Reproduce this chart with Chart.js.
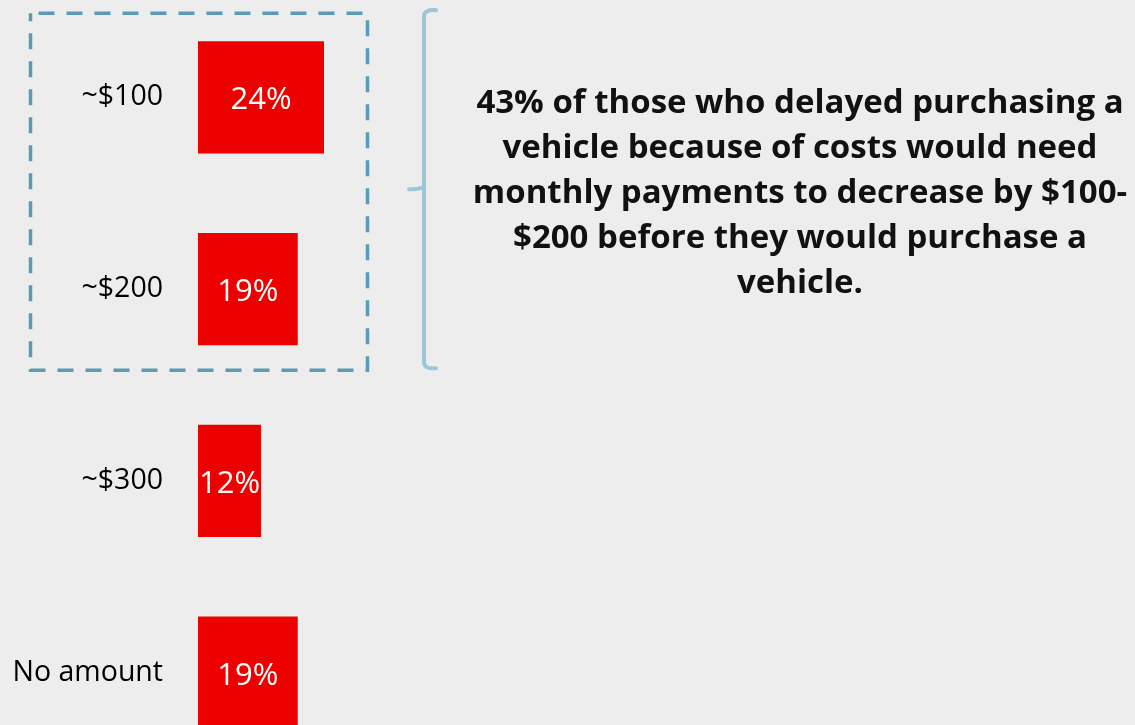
<!DOCTYPE html>
<html>
<head>
<meta charset="utf-8">
<script src="https://cdn.jsdelivr.net/npm/chart.js@4/dist/chart.umd.min.js"></script>
<style>
  html, body { margin: 0; padding: 0; background: #ededed; overflow: hidden; }
  #wrap { width: 1135px; height: 770px; }
</style>
</head>
<body>
<div id="wrap"><canvas id="c" width="1135" height="770"></canvas></div>
<script>
// Monthly payment decrease needed before purchasing a vehicle
const categories = ['~$100', '~$200', '~$300', 'No amount'];
const shares = [24, 19, 12, 19];
const calloutLines = [
  '43% of those who delayed purchasing a',
  'vehicle because of costs would need',
  'monthly payments to decrease by $100-',
  '$200 before they would purchase a',
  'vehicle.'
];

const BAR_RED = '#ec0000';
const BOX_BLUE = '#5c9bb8';
const BRACE_BLUE = '#9ec6d9';

// White percentage label centred in each bar
const valueLabels = {
  id: 'valueLabels',
  afterDatasetsDraw(chart) {
    const ctx = chart.ctx;
    const meta = chart.getDatasetMeta(0);
    ctx.save();
    ctx.fillStyle = '#ffffff';
    ctx.font = '31px "Open Sans", "Noto Sans", sans-serif';
    ctx.textAlign = 'center';
    ctx.textBaseline = 'middle';
    meta.data.forEach((bar, i) => {
      const v = chart.data.datasets[0].data[i];
      ctx.fillText(v + '%', (bar.x + bar.base) / 2, bar.y + 3);
    });
    ctx.restore();
  }
};

// Dashed frame around the first two bars, brace and callout text
const callout = {
  id: 'callout',
  afterDraw(chart) {
    const ctx = chart.ctx;
    const meta = chart.getDatasetMeta(0);
    const b0 = meta.data[0], b1 = meta.data[1];
    const top0 = b0.y - b0.height / 2;
    const bot1 = b1.y + b1.height / 2;

    ctx.save();
    // dashed frame
    ctx.strokeStyle = BOX_BLUE;
    ctx.lineWidth = 3.5;
    ctx.setLineDash([16, 12]);
    ctx.lineDashOffset = 20;
    ctx.strokeRect(30.5, top0 - 28, 337, (bot1 + 25) - (top0 - 28));

    // curly bracket
    ctx.setLineDash([]);
    ctx.strokeStyle = BRACE_BLUE;
    ctx.lineWidth = 4;
    ctx.lineCap = 'round';
    ctx.lineJoin = 'round';
    const bx = 424, bt = top0 - 31, bb = bot1 + 23, bm = (bt + bb) / 2;
    ctx.beginPath();
    ctx.moveTo(436, bt);
    ctx.quadraticCurveTo(bx, bt - 1, bx, bt + 6);
    ctx.lineTo(bx, bm - 4);
    ctx.quadraticCurveTo(bx, bm, 409, bm);
    ctx.moveTo(bx, bm - 4);
    ctx.quadraticCurveTo(bx, bm, bx, bm + 4);
    ctx.lineTo(bx, bb - 6);
    ctx.quadraticCurveTo(bx, bb + 1, 436, bb);
    ctx.stroke();

    // callout text
    ctx.fillStyle = '#111111';
    ctx.font = 'bold 33px "Open Sans", "Noto Sans", sans-serif';
    ctx.textAlign = 'center';
    ctx.textBaseline = 'middle';
    calloutLines.forEach((line, i) => {
      ctx.fillText(line, 800, 104 + i * 45);
    });
    ctx.restore();
  }
};

new Chart(document.getElementById('c'), {
  type: 'bar',
  data: {
    labels: categories,
    datasets: [{
      data: shares,
      backgroundColor: BAR_RED,
      borderWidth: 0,
      categoryPercentage: 1,
      barPercentage: 0.585
    }]
  },
  options: {
    indexAxis: 'y',
    responsive: false,
    animation: false,
    layout: { padding: { top: 0, bottom: 0, left: 0, right: 412 } },
    plugins: {
      legend: { display: false },
      tooltip: { enabled: false }
    },
    scales: {
      x: { display: false, min: 0, max: 100 },
      y: {
        grid: { display: false, drawTicks: true, tickLength: 35 },
        border: { display: false },
        afterFit(scale) { scale.width = 198; },
        ticks: {
          padding: 0,
          color: '#000000',
          // single-line labels: a tiny line height keeps the axis from
          // reserving extra room above the first and below the last band
          font: { family: '"Open Sans", "Noto Sans", sans-serif', size: 28.5, lineHeight: 0.1 }
        }
      }
    }
  },
  plugins: [valueLabels, callout]
});
</script>
</body>
</html>
